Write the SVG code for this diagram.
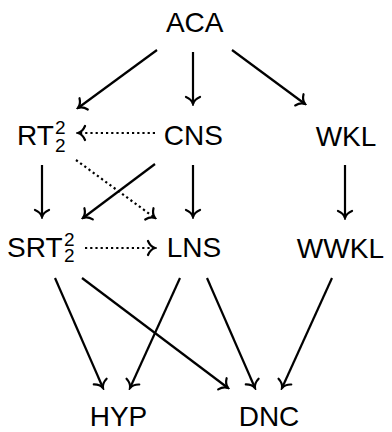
<svg xmlns="http://www.w3.org/2000/svg" width="392" height="432" viewBox="0 0 392 432">
  <style>
    .lbl { font-family: "Liberation Sans", Arial, sans-serif; font-size: 28px; fill: #000; }
    .idx { font-family: "Liberation Sans", Arial, sans-serif; font-size: 19px; fill: #000; }
    .mid { text-anchor: middle; }
    .edge { stroke: #000; stroke-width: 2.2; fill: none; marker-end: url(#to); }
    .dot { stroke-dasharray: 2.2 3; }
  </style>
  <defs>
    <!-- curved "to"-style arrow tip -->
    <marker id="to" viewBox="-10 -10 12 20" markerWidth="12" markerHeight="20" refX="0" refY="0" orient="auto" markerUnits="userSpaceOnUse">
      <path d="M -7,-7 C -5.2,-2.6 -2,-0.6 0,0 C -2,0.6 -5.2,2.6 -7,7" stroke="#000" stroke-width="2.2" fill="none" stroke-linecap="round"/>
    </marker>
  </defs>

  <g id="edges">
    <line class="edge" x1="157" y1="50" x2="78" y2="108"/>
    <line class="edge" x1="193" y1="52" x2="193" y2="104"/>
    <line class="edge" x1="232" y1="50" x2="305" y2="104"/>
    <line class="edge dot" x1="155" y1="133" x2="78" y2="133"/>
    <line class="edge dot" x1="76" y1="160" x2="155" y2="218"/>
    <line class="edge" x1="155" y1="164" x2="83" y2="218"/>
    <line class="edge" x1="42" y1="165" x2="42" y2="217"/>
    <line class="edge" x1="193" y1="165" x2="193" y2="217"/>
    <line class="edge" x1="345" y1="165" x2="345" y2="218"/>
    <line class="edge dot" x1="85" y1="248" x2="155" y2="248"/>
    <line class="edge" x1="55" y1="278" x2="103" y2="388"/>
    <line class="edge" x1="82" y1="278" x2="228" y2="388"/>
    <line class="edge" x1="180" y1="278" x2="130" y2="388"/>
    <line class="edge" x1="207" y1="278" x2="255" y2="388"/>
    <line class="edge" x1="332" y1="278" x2="282" y2="388"/>
  </g>

  <g id="ACA"><text class="lbl mid" x="194.7" y="32">ACA</text></g>
  <g id="RT22">
    <text class="lbl" x="17" y="145">RT</text>
    <text class="idx" x="55" y="134">2</text>
    <text class="idx" x="55" y="151.5">2</text>
  </g>
  <g id="CNS"><text class="lbl mid" x="193.4" y="145">CNS</text></g>
  <g id="WKL"><text class="lbl mid" x="346" y="146">WKL</text></g>
  <g id="SRT22">
    <text class="lbl" x="7" y="257">SRT</text>
    <text class="idx" x="64" y="246">2</text>
    <text class="idx" x="64" y="262">2</text>
  </g>
  <g id="LNS"><text class="lbl mid" x="194" y="257">LNS</text></g>
  <g id="WWKL"><text class="lbl mid" x="340.4" y="258">WWKL</text></g>
  <g id="HYP"><text class="lbl mid" x="118.5" y="426">HYP</text></g>
  <g id="DNC"><text class="lbl mid" x="269" y="426">DNC</text></g>
</svg>
